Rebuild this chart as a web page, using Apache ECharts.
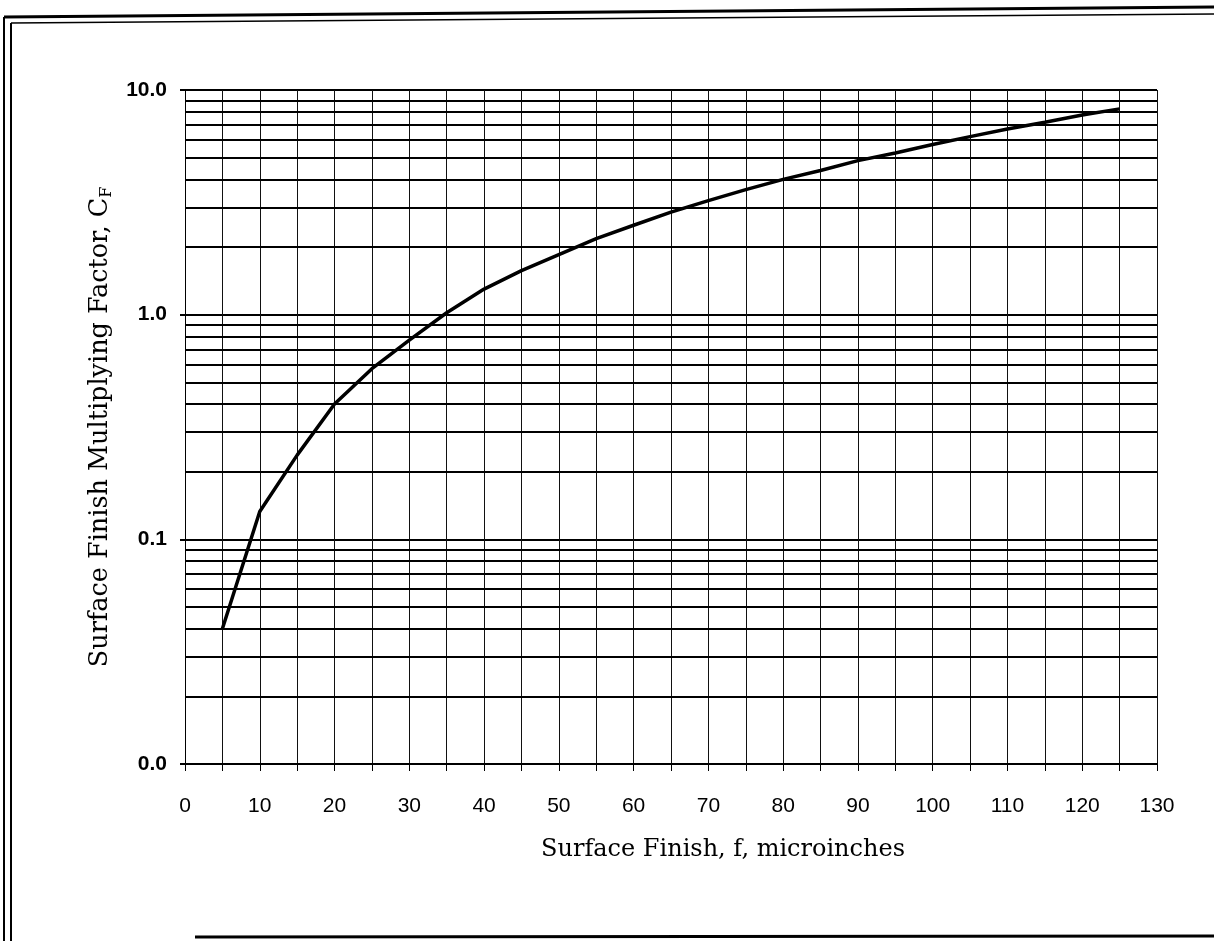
<!DOCTYPE html>
<html>
<head>
<meta charset="utf-8">
<script src="https://cdn.jsdelivr.net/npm/echarts@6/dist/echarts.min.js"></script>
<style>
html,body{margin:0;padding:0;background:#fff;}
#chart{width:1214px;height:941px;}
</style>
</head>
<body>
<div id="chart"></div>
<script>
// Data
var surfaceFinish = [5, 10, 15, 20, 25, 30, 35, 40, 45, 50, 55, 60, 65, 70, 75, 80, 85, 90, 95, 100, 105, 110, 115, 120, 125];
var multiplyingFactor = [0.040, 0.133, 0.237, 0.40, 0.575, 0.77, 1.02, 1.30, 1.57, 1.85, 2.18, 2.50, 2.86, 3.22, 3.60, 4.00, 4.38, 4.85, 5.24, 5.72, 6.20, 6.70, 7.18, 7.74, 8.24];
// Minor (2..9 per decade) horizontal gridline values on the log axis
var minorGridValues = [0.02, 0.03, 0.04, 0.05, 0.06, 0.07, 0.08, 0.09,
                       0.2, 0.3, 0.4, 0.5, 0.6, 0.7, 0.8, 0.9,
                       2, 3, 4, 5, 6, 7, 8, 9];
var xTitle = 'Surface Finish, f, microinches';
var yTitle = 'Surface Finish Multiplying Factor, C{sub|F}';

var seriesData = surfaceFinish.map(function (x, i) { return [x, multiplyingFactor[i]]; });

var chart = echarts.init(document.getElementById('chart'), null, {renderer: 'canvas'});
var serif = 'DejaVu Serif';
var sans = 'Liberation Sans, Arial, sans-serif';

var option = {
  backgroundColor: '#ffffff',
  animation: false,
  grid: {left: 185, right: 57, top: 90, bottom: 177, containLabel: false},
  xAxis: {
    type: 'value',
    min: 0, max: 130, interval: 5,
    name: xTitle,
    nameLocation: 'middle',
    nameGap: 74,
    nameTextStyle: {fontFamily: serif, fontSize: 24, color: '#000', padding: [0, 0, 0, 104]},
    axisLine: {show: true, onZero: false, lineStyle: {color: '#000', width: 2}},
    axisTick: {show: true, inside: false, length: 7, lineStyle: {color: '#000', width: 1}},
    axisLabel: {
      margin: 32,
      fontFamily: sans, fontSize: 21, color: '#000',
      formatter: function (v) { return v % 10 === 0 ? String(v) : ''; }
    },
    splitLine: {show: true, lineStyle: {color: '#111', width: 1}}
  },
  yAxis: {
    type: 'log',
    logBase: 10,
    min: 0.01, max: 10,
    name: yTitle,
    nameLocation: 'middle',
    nameGap: 70,
    nameTextStyle: {
      fontFamily: serif, fontSize: 25.5, color: '#000',
      rich: {sub: {fontFamily: serif, fontSize: 16, color: '#000', padding: [13, 0, 0, 0]}}
    },
    axisLine: {show: true, lineStyle: {color: '#000', width: 1}},
    axisTick: {show: true, inside: false, length: 5, lineStyle: {color: '#000', width: 2}},
    axisLabel: {
      margin: 18,
      fontFamily: sans, fontSize: 21, fontWeight: 'bold', color: '#000',
      formatter: function (v) { return Number(v).toFixed(1); }
    },
    splitLine: {show: true, lineStyle: {color: '#000', width: 2}}
  },
  graphic: [
    {type: 'line', shape: {x1: 4, y1: 17, x2: 4, y2: 941}, style: {stroke: '#000', lineWidth: 2}},
    {type: 'line', shape: {x1: 11, y1: 23, x2: 11, y2: 941}, style: {stroke: '#000', lineWidth: 2}},
    {type: 'line', shape: {x1: 4, y1: 17, x2: 1214, y2: 7}, style: {stroke: '#000', lineWidth: 3}},
    {type: 'line', shape: {x1: 11, y1: 23, x2: 1214, y2: 14}, style: {stroke: '#000', lineWidth: 1.5}},
    {type: 'line', shape: {x1: 195, y1: 937, x2: 1214, y2: 936}, style: {stroke: '#000', lineWidth: 3}}
  ],
  series: [
    {
      type: 'line',
      data: [],
      silent: true,
      markLine: {
        silent: true,
        symbol: ['none', 'none'],
        label: {show: false},
        lineStyle: {color: '#000', width: 2, type: 'solid'},
        data: minorGridValues.map(function (v) { return {yAxis: v}; })
      }
    },
    {
      type: 'line',
      data: seriesData,
      smooth: false,
      symbol: 'none',
      lineStyle: {color: '#000', width: 3.5},
      z: 5
    }
  ]
};
chart.setOption(option);
</script>
</body>
</html>
